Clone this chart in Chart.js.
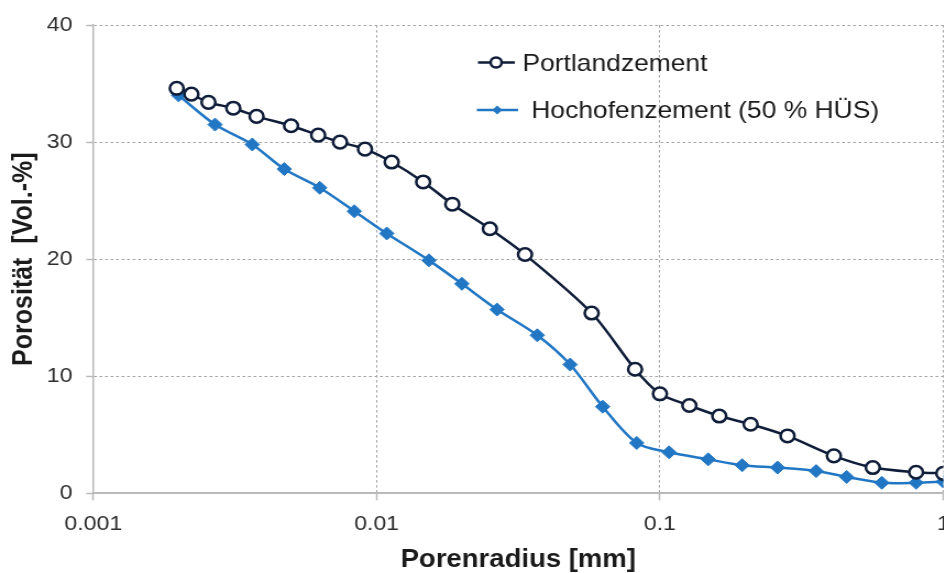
<!DOCTYPE html>
<html>
<head>
<meta charset="utf-8">
<script src="https://cdn.jsdelivr.net/npm/chart.js@4.4.0/dist/chart.umd.min.js"></script>
<style>
    html, body {
        margin: 0;
        padding: 0;
        width: 944px;
        height: 573px;
        overflow: hidden;
        background: #ffffff;
    }
    /* the source picture is a little stretched sideways */
    #porenChart {
        display: block;
        transform: scaleX(1.1);
        transform-origin: 0 0;
    }
</style>
</head>
<body>
<canvas id="porenChart" width="880" height="573"></canvas>
<script>
const portlandRadius = [0.00197, 0.00222, 0.00255, 0.00312, 0.00377, 0.00499, 0.00622, 0.00743, 0.0091, 0.0113, 0.0146, 0.0185, 0.0251, 0.0334, 0.0574, 0.0817, 0.1, 0.127, 0.162, 0.209, 0.282, 0.411, 0.564, 0.802, 1.0];
const portlandPorosity = [34.6, 34.1, 33.4, 32.9, 32.2, 31.4, 30.6, 30.0, 29.4, 28.3, 26.6, 24.7, 22.6, 20.4, 15.4, 10.6, 8.5, 7.5, 6.6, 5.9, 4.9, 3.2, 2.2, 1.8, 1.7];

const hochofenRadius = [0.002, 0.00269, 0.00364, 0.00472, 0.0063, 0.00834, 0.01086, 0.0153, 0.02, 0.0266, 0.0369, 0.0482, 0.0628, 0.0828, 0.1077, 0.148, 0.195, 0.26, 0.356, 0.456, 0.607, 0.802, 1.0];
const hochofenPorosity = [34.0, 31.5, 29.8, 27.7, 26.1, 24.1, 22.2, 19.9, 17.9, 15.7, 13.5, 11.0, 7.4, 4.3, 3.5, 2.9, 2.4, 2.2, 1.9, 1.4, 0.9, 0.9, 1.0];

const xTicks = [0.001, 0.01, 0.1, 1];
const xTickLabels = ["0.001", "0.01", "0.1", "1"];
const yTicks = [0, 10, 20, 30, 40];

const seriesNames = ["Portlandzement", "Hochofenzement (50 % HÜS)"];
const navy = "#0f1d38";
const blue = "#2277c4";
const gridGray = "#a2a2a2";
const axisGray = "#bababa";
const fontFamily = "'Liberation Sans', Arial, sans-serif";

const toPoints = (xs, ys) => xs.map((x, i) => ({ x: x, y: ys[i] }));

// legend drawn inside the plot, line + marker like the original
const innerLegend = {
    id: "innerLegend",
    afterDraw(chart) {
        const ctx = chart.ctx;
        ctx.save();
        ctx.font = "24px " + fontFamily;
        ctx.textBaseline = "middle";

        // Portlandzement
        ctx.strokeStyle = navy;
        ctx.lineWidth = 2.5;
        ctx.beginPath();
        ctx.moveTo(434.5, 62.5);
        ctx.lineTo(468, 62.5);
        ctx.stroke();
        ctx.beginPath();
        ctx.arc(451, 62.5, 5, 0, Math.PI * 2);
        ctx.fillStyle = "#ffffff";
        ctx.fill();
        ctx.stroke();
        ctx.fillStyle = "#1a1a1a";
        ctx.fillText(seriesNames[0], 475, 64);

        // Hochofenzement
        ctx.strokeStyle = blue;
        ctx.beginPath();
        ctx.moveTo(433.5, 110);
        ctx.lineTo(471, 110);
        ctx.stroke();
        ctx.fillStyle = blue;
        ctx.beginPath();
        ctx.moveTo(447.5, 110);
        ctx.lineTo(452, 105.5);
        ctx.lineTo(456.5, 110);
        ctx.lineTo(452, 114.5);
        ctx.closePath();
        ctx.fill();
        ctx.fillStyle = "#1a1a1a";
        ctx.fillText(seriesNames[1], 483, 111);
        ctx.restore();
    },
};

const porenChart = document.querySelector("#porenChart");

new Chart(porenChart, {
    type: "line",
    data: {
        datasets: [
            {
                label: seriesNames[0],
                data: toPoints(portlandRadius, portlandPorosity),
                borderColor: navy,
                borderWidth: 2.5,
                backgroundColor: "#ffffff",
                pointStyle: "circle",
                pointRadius: 6.3,
                pointBorderWidth: 2.5,
                pointBorderColor: navy,
                pointBackgroundColor: "#ffffff",
                tension: 0.3,
            },
            {
                label: seriesNames[1],
                data: toPoints(hochofenRadius, hochofenPorosity),
                borderColor: blue,
                borderWidth: 2.5,
                backgroundColor: blue,
                pointStyle: "rectRot",
                pointRadius: 6.5,
                pointBorderWidth: 1,
                pointBorderColor: blue,
                pointBackgroundColor: blue,
                tension: 0.3,
            },
        ],
    },
    options: {
        responsive: false,
        animation: false,
        events: [],
        layout: {
            padding: { top: 19.5, right: 22.5, bottom: 0, left: 0 },
        },
        plugins: {
            legend: { display: false },
            tooltip: { enabled: false },
        },
        scales: {
            x: {
                type: "logarithmic",
                min: 0.001,
                max: 1,
                afterBuildTicks: (scale) => {
                    scale.ticks = xTicks.map((v) => ({ value: v }));
                },
                afterFit: (scale) => {
                    scale.height = 79.7;
                },
                ticks: {
                    autoSkip: false,
                    maxRotation: 0,
                    padding: 11,
                    color: "#2e2e2e",
                    font: { family: fontFamily, size: 21 },
                    callback: (value) => {
                        const i = xTicks.indexOf(value);
                        return i >= 0 ? xTickLabels[i] : "";
                    },
                },
                grid: {
                    color: gridGray,
                    lineWidth: 1,
                    drawTicks: true,
                    tickLength: 7,
                    tickColor: axisGray,
                    tickWidth: 1.5,
                    tickBorderDash: [],
                },
                border: {
                    display: true,
                    color: axisGray,
                    width: 2,
                    dash: [2.5, 2.5],
                },
                title: {
                    display: true,
                    text: "Porenradius [mm]",
                    color: "#1a1a1a",
                    font: { family: fontFamily, size: 25, weight: "bold", lineHeight: 1 },
                    padding: { top: 0, bottom: 0.5 },
                },
            },
            y: {
                type: "linear",
                min: 0,
                max: 40,
                afterBuildTicks: (scale) => {
                    scale.ticks = yTicks.map((v) => ({ value: v }));
                },
                afterFit: (scale) => {
                    scale.width = 84.8;
                },
                ticks: {
                    padding: 12.5,
                    color: "#2e2e2e",
                    font: { family: fontFamily, size: 21 },
                },
                grid: {
                    color: gridGray,
                    lineWidth: 1,
                    drawTicks: true,
                    tickLength: 6.4,
                    tickColor: axisGray,
                    tickWidth: 1.5,
                    tickBorderDash: [],
                },
                border: {
                    display: true,
                    color: axisGray,
                    width: 1.5,
                    dash: [2.5, 2.5],
                },
                title: {
                    display: true,
                    text: "Porosität  [Vol.-%]",
                    color: "#1a1a1a",
                    font: { family: fontFamily, size: 25, weight: "bold", lineHeight: 1 },
                    padding: { top: 10, bottom: 0 },
                },
            },
        },
    },
    plugins: [innerLegend],
});
</script>
</body>
</html>
